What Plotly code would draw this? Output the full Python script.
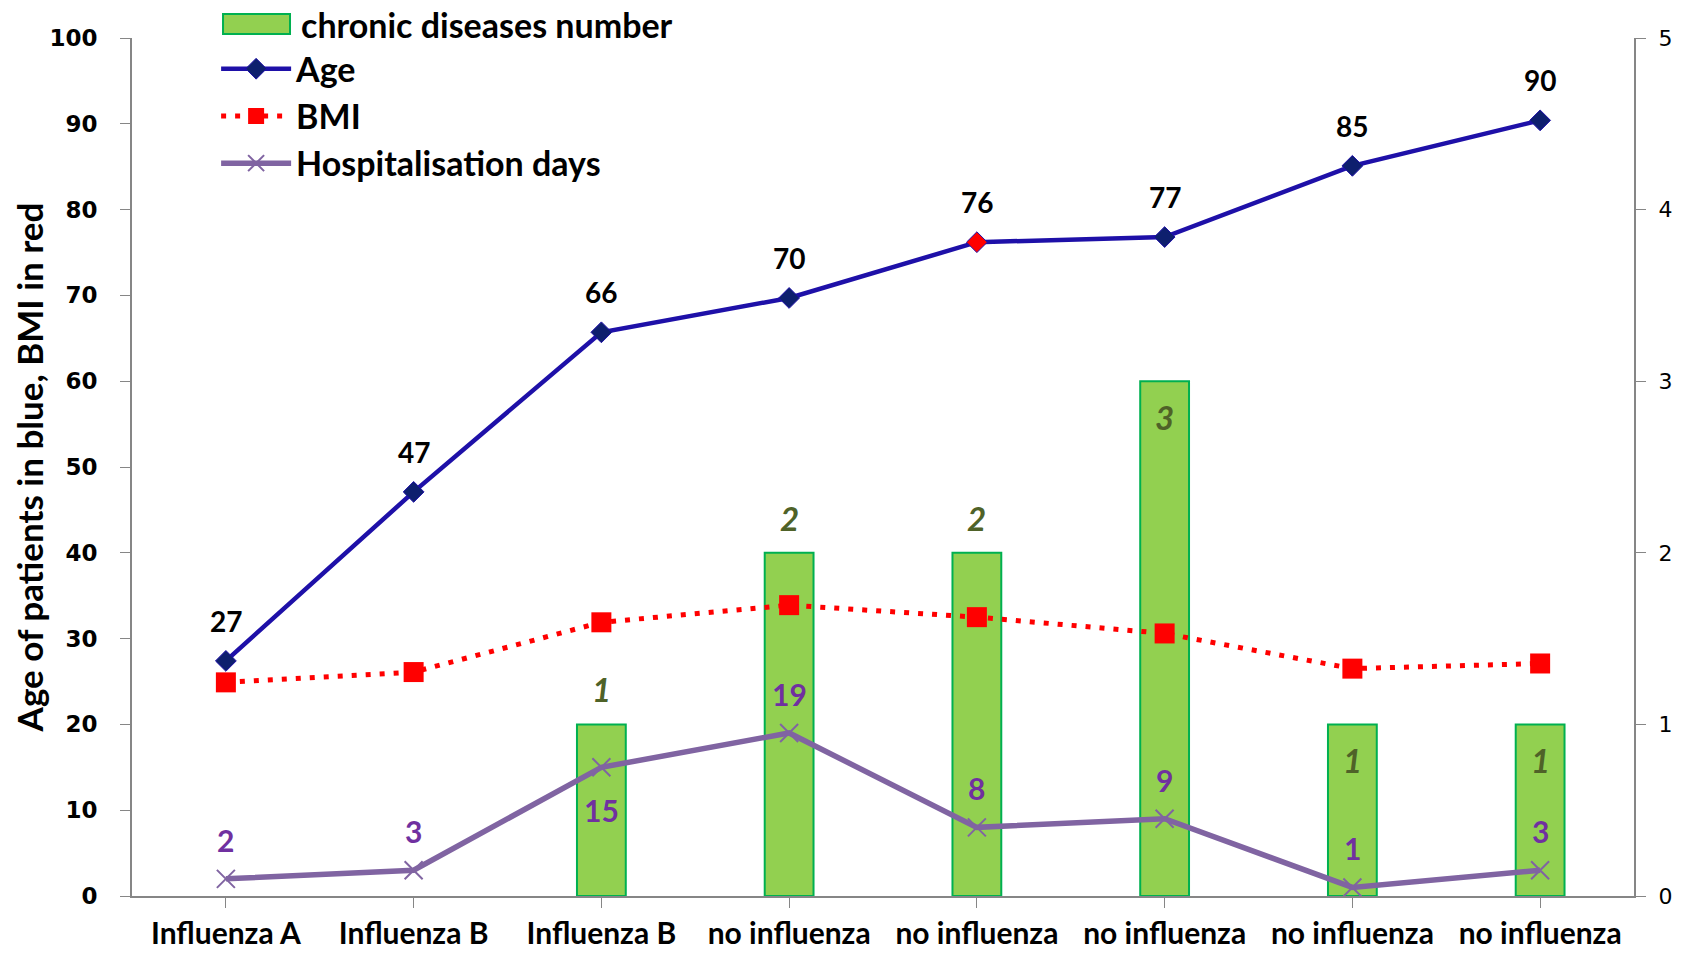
import plotly.graph_objects as go

categories = ["Influenza A", "Influenza B", "Influenza B", "no influenza",
              "no influenza", "no influenza", "no influenza", "no influenza"]
age = [27.4, 47.1, 65.7, 69.7, 76.2, 76.8, 85.1, 90.4]
bmi = [24.9, 26.1, 31.9, 33.9, 32.5, 30.6, 26.5, 27.1]
hosp_days = [2, 3, 15, 19, 8, 9, 1, 3]
chronic = [0, 0, 1, 2, 2, 3, 1, 1]
chronic_label_above = [True, True, True, True, True, False, False, False]
hosp_label_above = [True, True, False, True, True, True, True, True]

x = list(range(len(categories)))

AGE_BLUE = "#1E10A8"
AGE_MARKER = "#0E1F6E"
HOSP_PURPLE = "#8064A2"
HOSP_TEXT = "#7030A0"
CHRONIC_TEXT = "#4F6228"
BAR_FILL = "#92D050"
BAR_EDGE = "#00B050"
AXIS_GREY = "#868686"
LBL_FONT = "Lato, Open Sans, sans-serif"

age_marker_colors = [AGE_MARKER] * len(age)
age_marker_colors[4] = "#FF0000"

fig = go.Figure()
fig.add_trace(go.Bar(
    x=x, y=chronic, name="chronic diseases number", yaxis="y",
    marker=dict(color=BAR_FILL,
                line=dict(color=BAR_EDGE, width=[2 if v else 0 for v in chronic])),
    width=0.26, showlegend=False,
))
fig.add_trace(go.Scatter(
    x=x, y=age, name="Age", yaxis="y2", mode="lines+markers",
    line=dict(color=AGE_BLUE, width=4.5),
    marker=dict(symbol="diamond", size=16, color=age_marker_colors,
                line=dict(color=AGE_BLUE, width=1)),
    legendgroup="b",
))
fig.add_trace(go.Scatter(
    x=x, y=bmi, name="BMI", yaxis="y2", mode="lines+markers",
    line=dict(color="#FF0000", width=5, dash="5px,9px"),
    marker=dict(symbol="square", size=20, color="#FF0000"),
    legendgroup="c",
))
fig.add_trace(go.Scatter(
    x=x, y=hosp_days, name="Hospitalisation days", yaxis="y2", mode="lines+markers",
    line=dict(color=HOSP_PURPLE, width=5.5),
    marker=dict(symbol="x-thin", size=18, line=dict(color=HOSP_PURPLE, width=2)),
    legendgroup="d",
))

annotations = []
for xi, v in zip(x, age):
    annotations.append(dict(x=xi, y=v, xref="x", yref="y2", text=f"{round(v)}",
                            showarrow=False, yshift=40,
                            font=dict(family=LBL_FONT, size=28, color="black", weight="bold")))
for xi, v, above in zip(x, hosp_days, hosp_label_above):
    annotations.append(dict(x=xi, y=v, xref="x", yref="y2", text=f"{v}",
                            showarrow=False, yshift=39 if above else -43,
                            font=dict(family=LBL_FONT, size=30, color=HOSP_TEXT, weight="bold")))
for xi, v, above in zip(x, chronic, chronic_label_above):
    if v == 0:
        continue
    annotations.append(dict(x=xi, y=v, xref="x", yref="y", text=f"<i>{v}</i>",
                            showarrow=False, yshift=35 if above else -36,
                            font=dict(family=LBL_FONT, size=33, color=CHRONIC_TEXT, weight="bold")))

# legend entry for the bars drawn by hand (plotly's bar swatch is too small)
annotations.append(dict(x=0.1112, y=1.0155, xref="paper", yref="paper",
                        xanchor="left", yanchor="middle", showarrow=False,
                        text="chronic diseases number",
                        font=dict(family=LBL_FONT, size=34, color="black", weight="bold")))
shapes = [dict(type="rect", xref="paper", yref="paper",
               x0=0.0606, x1=0.1052, y0=1.0048, y1=1.0281,
               fillcolor=BAR_FILL, line=dict(color=BAR_EDGE, width=2))]

fig.update_layout(
    width=1686, height=954,
    plot_bgcolor="white", paper_bgcolor="white",
    margin=dict(l=124, r=60, t=30, b=66, autoexpand=False),
    showlegend=True,
    legend=dict(x=0.056, y=0.9975, xanchor="left", yanchor="top",
                bgcolor="rgba(0,0,0,0)", itemwidth=70, tracegroupgap=0,
                traceorder="grouped",
                font=dict(family=LBL_FONT, size=34, color="black", weight="bold")),
    xaxis=dict(tickvals=x, ticktext=categories, range=[-0.5, 7.5],
               showline=True, linecolor=AXIS_GREY, linewidth=2,
               ticks="outside", ticklen=10, tickcolor=AXIS_GREY, tickson="boundaries",
               showgrid=False, zeroline=False,
               tickfont=dict(family=LBL_FONT, size=30, color="black", weight="bold")),
    yaxis=dict(range=[0, 5], side="right", dtick=1, showgrid=False, zeroline=False,
               showline=True, linecolor=AXIS_GREY, linewidth=2,
               ticks="outside", ticklen=10, tickcolor=AXIS_GREY, ticklabelstandoff=8,
               tickfont=dict(family="DejaVu Sans", size=22, color="black")),
    yaxis2=dict(range=[0, 100], overlaying="y", side="left", dtick=10,
                showgrid=False, zeroline=False,
                showline=True, linecolor=AXIS_GREY, linewidth=2,
                ticks="outside", ticklen=10, tickcolor=AXIS_GREY, ticklabelstandoff=18,
                tickfont=dict(family="DejaVu Sans", size=23, color="black", weight="bold"),
                title=dict(text="Age of patients in blue, BMI in red", standoff=12,
                           font=dict(family=LBL_FONT, size=35, color="black", weight="bold"))),
    annotations=annotations,
    shapes=shapes,
)

fig.write_html("out.html")
